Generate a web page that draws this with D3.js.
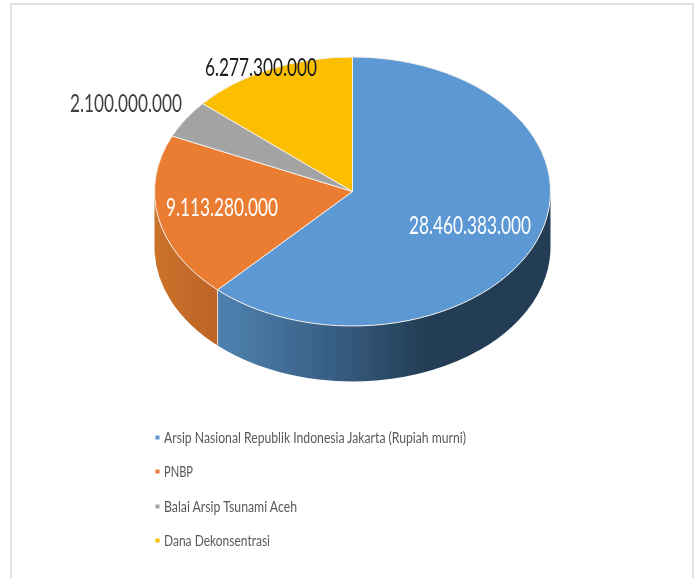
<!DOCTYPE html>
<html><head><meta charset="utf-8">
<script src="https://cdn.jsdelivr.net/npm/d3@7/dist/d3.min.js"></script>
<style>html,body{margin:0;padding:0;background:#fff}svg{display:block}</style>
</head><body><svg id="c" width="698" height="578"></svg>
<script>
const categories = ["Arsip Nasional Republik Indonesia Jakarta (Rupiah murni)","PNBP","Balai Arsip Tsunami Aceh","Dana Dekonsentrasi"];
const values = [28460383000,9113280000,2100000000,6277300000];
const valueLabels = ["28.460.383.000","9.113.280.000","2.100.000.000","6.277.300.000"];
const colors = ["#5b98d3","#eb7d32","#a3a3a3","#fbbf00"];
const labelColors = ["#ffffff","#ffffff","#404040","#1c1c1c"];
const labelPos = [[409,234,122],[166,216,112],[70,112,112],[205,76,112]];
const legendY = [437.5,471.5,506.5,540.5];
const legendW = [302,29,133,106];

const W=698,H=578,cx=352.5,cy=191.5,rx=198,ry=134.5,depth=55.5;
const font="Lato, 'Open Sans', sans-serif";
const svg=d3.select("#c");
const defs=svg.append("defs");
defs.append("filter").attr("id","soft").attr("x",0).attr("y",0).attr("width",1).attr("height",1)
  .attr("filterUnits","userSpaceOnUse").attr("width",W).attr("height",H)
  .append("feGaussianBlur").attr("stdDeviation",0.45);
const root=svg.append("g").attr("filter","url(#soft)");
root.append("rect").attr("x",11).attr("y",4).attr("width",682).attr("height",H).attr("fill","#fff").attr("stroke","#e2e2e2").attr("stroke-width",2);

const lin=(id,x1,x2,stops)=>{const g=defs.append("linearGradient").attr("id",id).attr("gradientUnits","userSpaceOnUse").attr("x1",x1).attr("x2",x2).attr("y1",0).attr("y2",0);
 stops.forEach(s=>g.append("stop").attr("offset",s[0]).attr("stop-color",s[1]));return `url(#${id})`;};
const wallFill=[lin("wb",217,425,[[0,"#4f82b0"],[0.5,"#3a6289"],[1,"#243e55"]]),lin("wo",154,217,[[0,"#cb722c"],[1,"#bd6426"]])];

const arcs=d3.pie().value(d=>d).sort(null)(values);
const px=a=>cx+rx*Math.sin(a), py=a=>cy-ry*Math.cos(a);

const lo=Math.PI/2, hi=3*Math.PI/2;
arcs.forEach((d,i)=>{
  const a0=Math.max(d.startAngle,lo), a1=Math.min(d.endAngle,hi);
  if(a1<=a0) return;
  const p=`M${px(a0)},${py(a0)}A${rx},${ry} 0 0 1 ${px(a1)},${py(a1)}L${px(a1)},${py(a1)+depth}A${rx},${ry} 0 0 0 ${px(a0)},${py(a0)+depth}Z`;
  root.append("path").attr("d",p).attr("fill",wallFill[i]);
});
const seam=arcs[0].endAngle;
root.append("line").attr("x1",px(seam)).attr("x2",px(seam)).attr("y1",py(seam)).attr("y2",py(seam)+depth).attr("stroke","#e9d9cc").attr("stroke-width",1);

const arc=d3.arc().innerRadius(0).outerRadius(rx);
root.append("g").attr("transform",`translate(${cx},${cy}) scale(1,${ry/rx})`)
  .selectAll("path").data(arcs).join("path").attr("d",arc).attr("fill",(d,i)=>colors[i])
  .attr("stroke","#f2eeea").attr("stroke-width",1).attr("vector-effect","non-scaling-stroke");

root.append("g").selectAll("text").data(valueLabels).join("text")
  .attr("x",(d,i)=>labelPos[i][0]).attr("y",(d,i)=>labelPos[i][1]).attr("textLength",(d,i)=>labelPos[i][2])
  .attr("lengthAdjust","spacingAndGlyphs").attr("font-family",font).attr("font-size",24.5)
  .attr("fill",(d,i)=>labelColors[i]).text(d=>d);

const lg=root.append("g").selectAll("g").data(categories).join("g");
lg.append("rect").attr("x",155.5).attr("y",(d,i)=>legendY[i]-2).attr("width",4).attr("height",4).attr("fill",(d,i)=>colors[i]);
lg.append("text").attr("x",164).attr("y",(d,i)=>legendY[i]+5).attr("textLength",(d,i)=>legendW[i])
  .attr("lengthAdjust","spacingAndGlyphs").attr("font-family",font).attr("font-size",15.5).attr("fill","#595959").text(d=>d);
</script></body></html>
